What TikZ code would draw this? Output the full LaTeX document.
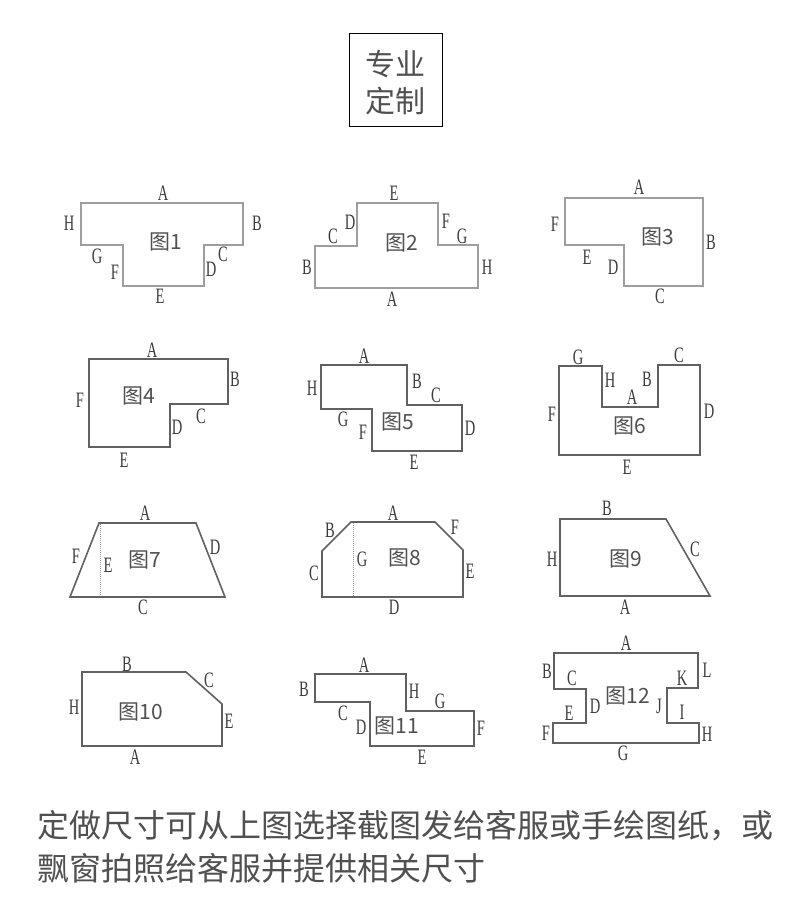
\documentclass[tikz,border=0pt]{standalone}
\usepackage{fontspec}
\newfontfamily\cjkfont{Noto Sans CJK SC}
\newfontfamily\edgefont[FakeStretch=0.66]{Liberation Serif}
\definecolor{edgegray}{HTML}{3C3C3C}
\definecolor{textgray}{HTML}{505050}
\tikzset{
  edge/.style={font=\edgefont\fontsize{22}{22}\selectfont,text=edgegray,inner sep=0pt},
  fig/.style={font=\cjkfont\fontsize{21}{21}\selectfont,text=textgray,inner sep=0pt},
  pale/.style={draw=black!38,line width=1.4pt,line join=miter},
  dark/.style={draw=black!62,line width=1.6pt,line join=miter},
  fold/.style={draw=black!40,line width=1pt,densely dotted},
  caption/.style={font=\cjkfont\fontsize{32}{32}\selectfont,text=textgray,inner sep=0pt,anchor=west},
  titlebox/.style={draw=black,line width=0.9pt,minimum width=93,minimum height=93,inner sep=0pt},
  titletext/.style={inner sep=0pt,align=center,font=\cjkfont\fontsize{30}{37}\selectfont,text=textgray},
}
\begin{document}
\begin{tikzpicture}[x=1pt,y=-1pt]
  \useasboundingbox (0,0) rectangle (790,915);
  \node[titlebox] (title) at (395.5,79.5) {};
  \node[titletext] (titlename) at (395.5,82.5) {专业\\定制};

  % row 1
  \draw[pale] (81,203)--(243,203)--(243,245)--(204,245)--(204,286)--(123,286)--(123,245)--(81,245)--cycle;
  \node[fig] (f1) at (166,242) {图1};
  \node[edge] (f1a) at (163,193) {A};
  \node[edge] (f1b) at (257,223) {B};
  \node[edge] (f1c) at (223,254) {C};
  \node[edge] (f1d) at (211,269) {D};
  \node[edge] (f1e) at (160,296) {E};
  \node[edge] (f1f) at (115,272) {F};
  \node[edge] (f1g) at (97,256) {G};
  \node[edge] (f1h) at (69,223) {H};

  \draw[pale] (357,203)--(438,203)--(438,245)--(478,245)--(478,288)--(315,288)--(315,246)--(357,246)--cycle;
  \node[fig] (f2) at (402,243) {图2};
  \node[edge] (f2a) at (392,299) {A};
  \node[edge] (f2b) at (307,267) {B};
  \node[edge] (f2c) at (333,236) {C};
  \node[edge] (f2d) at (350,222) {D};
  \node[edge] (f2e) at (394,193) {E};
  \node[edge] (f2f) at (446,221) {F};
  \node[edge] (f2g) at (462,236) {G};
  \node[edge] (f2h) at (487,267) {H};

  \draw[pale] (565,198)--(703,198)--(703,286)--(624,286)--(624,245)--(565,245)--cycle;
  \node[fig] (f3) at (658,237) {图3};
  \node[edge] (f3a) at (639,187) {A};
  \node[edge] (f3b) at (711,242) {B};
  \node[edge] (f3c) at (660,296) {C};
  \node[edge] (f3d) at (613,267) {D};
  \node[edge] (f3e) at (587,257) {E};
  \node[edge] (f3f) at (555,224) {F};

  % row 2
  \draw[dark] (89,359)--(228,359)--(228,404)--(170,404)--(170,447)--(89,447)--cycle;
  \node[fig] (f4) at (139,396) {图4};
  \node[edge] (f4a) at (152,350) {A};
  \node[edge] (f4b) at (235,379) {B};
  \node[edge] (f4c) at (201,416) {C};
  \node[edge] (f4d) at (177,427) {D};
  \node[edge] (f4e) at (124,460) {E};
  \node[edge] (f4f) at (80,400) {F};

  \draw[dark] (321,365)--(407,365)--(407,405)--(462,405)--(462,451)--(372,451)--(372,409)--(321,409)--cycle;
  \node[fig] (f5) at (398,422) {图5};
  \node[edge] (f5a) at (364,356) {A};
  \node[edge] (f5b) at (417,381) {B};
  \node[edge] (f5c) at (436,395) {C};
  \node[edge] (f5d) at (470,428) {D};
  \node[edge] (f5e) at (414,462) {E};
  \node[edge] (f5f) at (363,432) {F};
  \node[edge] (f5g) at (343,419) {G};
  \node[edge] (f5h) at (312,388) {H};

  \draw[dark] (559,366)--(602,366)--(602,407)--(658,407)--(658,365)--(700,365)--(700,455)--(559,455)--cycle;
  \node[fig] (f6) at (630,426) {图6};
  \node[edge] (f6a) at (632,397) {A};
  \node[edge] (f6b) at (647,379) {B};
  \node[edge] (f6c) at (679,355) {C};
  \node[edge] (f6d) at (709,411) {D};
  \node[edge] (f6e) at (627,467) {E};
  \node[edge] (f6f) at (552,414) {F};
  \node[edge] (f6g) at (578,357) {G};
  \node[edge] (f6h) at (610,380) {H};

  % row 3
  \draw[dark] (99,523)--(196,523)--(225,597)--(70,597)--cycle;
  \draw[fold] (100,524)--(100,596);
  \node[fig] (f7) at (145,560) {图7};
  \node[edge] (f7a) at (145,513) {A};
  \node[edge] (f7c) at (143,607) {C};
  \node[edge] (f7d) at (215,547) {D};
  \node[edge] (f7e) at (108,565) {E};
  \node[edge] (f7f) at (76,556) {F};

  \draw[dark] (351,522)--(435,522)--(463,550)--(463,597)--(322,597)--(322,551)--cycle;
  \draw[fold] (353,523)--(353,596);
  \node[fig] (f8) at (405,558) {图8};
  \node[edge] (f8a) at (393,513) {A};
  \node[edge] (f8b) at (330,530) {B};
  \node[edge] (f8c) at (314,573) {C};
  \node[edge] (f8d) at (394,607) {D};
  \node[edge] (f8e) at (470,571) {E};
  \node[edge] (f8f) at (455,527) {F};
  \node[edge] (f8g) at (362,559) {G};

  \draw[dark] (560,519)--(666,519)--(710,596)--(560,596)--cycle;
  \node[fig] (f9) at (626,559) {图9};
  \node[edge] (f9a) at (625,607) {A};
  \node[edge] (f9b) at (607,508) {B};
  \node[edge] (f9c) at (695,549) {C};
  \node[edge] (f9h) at (552,559) {H};

  % row 4
  \draw[dark] (82,672)--(186,672)--(222,704)--(222,746)--(82,746)--cycle;
  \node[fig] (f10) at (141,712) {图10};
  \node[edge] (f10a) at (135,757) {A};
  \node[edge] (f10b) at (127,664) {B};
  \node[edge] (f10c) at (209,680) {C};
  \node[edge] (f10e) at (229,721) {E};
  \node[edge] (f10h) at (74,707) {H};

  \draw[dark] (315,674)--(406,674)--(406,711)--(474,711)--(474,746)--(370,746)--(370,702)--(315,702)--cycle;
  \node[fig] (f11) at (397,726) {图11};
  \node[edge] (f11a) at (364,665) {A};
  \node[edge] (f11b) at (304,689) {B};
  \node[edge] (f11c) at (343,713) {C};
  \node[edge] (f11d) at (361,727) {D};
  \node[edge] (f11e) at (422,757) {E};
  \node[edge] (f11f) at (481,728) {F};
  \node[edge] (f11g) at (440,701) {G};
  \node[edge] (f11h) at (414,691) {H};

  \draw[dark] (554,653)--(698,653)--(698,688)--(667,688)--(667,723)--(699,723)--(699,743)--(553,743)--(553,723)--(586,723)--(586,689)--(554,689)--cycle;
  \node[fig] (f12) at (628,696) {图12};
  \node[edge] (f12a) at (626,643) {A};
  \node[edge] (f12b) at (547,671) {B};
  \node[edge] (f12c) at (572,678) {C};
  \node[edge] (f12d) at (595,706) {D};
  \node[edge] (f12e) at (569,713) {E};
  \node[edge] (f12f) at (546,733) {F};
  \node[edge] (f12g) at (623,753) {G};
  \node[edge] (f12h) at (707,734) {H};
  \node[edge] (f12i) at (682,712) {I};
  \node[edge] (f12j) at (659,706) {J};
  \node[edge] (f12k) at (682,678) {K};
  \node[edge] (f12l) at (707,670) {L};

  \node[caption] (line1) at (37,826) {定做尺寸可从上图选择截图发给客服或手绘图纸，或};
  \node[caption] (line2) at (37,868) {飘窗拍照给客服并提供相关尺寸};
\end{tikzpicture}
\end{document}
